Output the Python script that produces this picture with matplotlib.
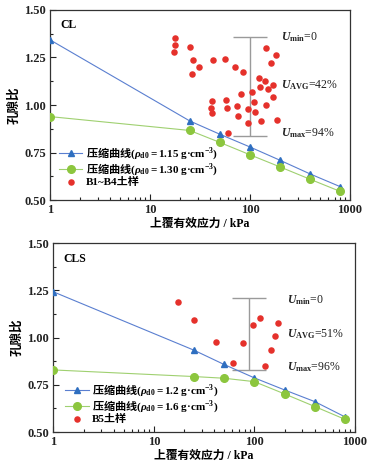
import matplotlib
matplotlib.use("Agg")
import matplotlib.pyplot as plt
from matplotlib.ticker import FixedLocator, FixedFormatter, MultipleLocator, LogLocator, NullFormatter

plt.rcParams['font.family'] = ['Liberation Serif', 'Noto Sans CJK SC', 'DejaVu Sans']
plt.rcParams['mathtext.fontset'] = 'custom'
plt.rcParams['mathtext.rm'] = 'Liberation Serif:bold'
plt.rcParams['mathtext.it'] = 'Liberation Serif:italic:bold'
plt.rcParams['mathtext.bf'] = 'Liberation Serif:bold'
plt.rcParams['font.weight'] = 'bold'

# ---------------- data ----------------
stress = [1, 25, 50, 100, 200, 400, 800]

CL_e_115 = [1.343, 0.916, 0.846, 0.779, 0.709, 0.637, 0.570]
CL_e_130 = [0.939, 0.866, 0.803, 0.738, 0.674, 0.609, 0.545]
CL_sample_p = [17.7, 17.7, 17.4, 25.1, 26.7, 30.7, 26.5, 42.4, 56.6, 70.8, 85.1,
               144.5, 182, 161, 124, 142, 169, 126, 151, 80.7, 104.7, 171,
               41.4, 57.5, 110, 144.5, 40.7, 58.9, 74.1, 94.8, 41.4, 113,
               76.4, 94.8, 129.7, 187.6, 60.3]
CL_sample_e = [1.351, 1.316, 1.281, 1.304, 1.238, 1.198, 1.163, 1.235, 1.242, 1.202, 1.174,
               1.300, 1.263, 1.221, 1.142, 1.126, 1.105, 1.093, 1.084, 1.059, 1.068, 1.042,
               1.019, 1.026, 1.014, 0.998, 0.986, 0.986, 0.993, 0.981, 0.956, 0.965,
               0.941, 0.907, 0.914, 0.921, 0.854]
CL_bar_p = 100
CL_bar_lo, CL_bar_hi = 0.837, 1.356
CL_U = ['$\\it{U}_{\\rm min}$=0', '$\\it{U}_{\\rm AVG}$=42%', '$\\it{U}_{\\rm max}$=94%']
CL_U_e = [1.356, 1.105, 0.851]

CLS_e_12 = [1.243, 0.934, 0.858, 0.787, 0.723, 0.661, 0.580]
CLS_e_16 = [0.829, 0.794, 0.785, 0.767, 0.702, 0.635, 0.567]
CLS_sample_p = [17.4, 25.3, 41.9, 60.9, 77.3, 97.3, 113, 127, 145, 161, 173]
CLS_sample_e = [1.187, 1.093, 0.977, 0.864, 0.972, 1.066, 1.103, 0.850, 0.933, 1.008, 1.077]
CLS_bar_p = 88
CLS_bar_lo, CLS_bar_hi = 0.831, 1.208
CLS_U = ['$\\it{U}_{\\rm min}$=0', '$\\it{U}_{\\rm AVG}$=51%', '$\\it{U}_{\\rm max}$=96%']
CLS_U_e = [1.199, 1.019, 0.845]

x_ticks = [1, 10, 100, 1000]
x_ticklabels = ['1', '10', '100', '1000']
y_ticks = [0.50, 0.75, 1.00, 1.25, 1.50]
y_ticklabels = ['0.50', '0.75', '1.00', '1.25', '1.50']

BLUE = '#2f6fc0'
BLUE_L = '#5a7fd0'
GREEN = '#8cc63e'
GREEN_L = '#9fd070'
RED = '#e5312b'
GRAY = '#9a9a9a'

fig = plt.figure(figsize=(3.72, 4.67), dpi=100)


def curve_label(rho):
    return '压缩曲线$({\\it\\rho}_{\\rm d0}{\\rm =%s\\ g·cm}^{-3})$' % rho


def panel(ax, tag, e1, e2, lab1, lab2, sp, se, samplab, bar_p, lo, hi, utexts, ue, utx, leg_anchor):
    ax.plot(stress, e1, '-', color=BLUE_L, lw=0.8, marker='^', ms=5,
            mfc=BLUE, mec=BLUE, label=lab1, zorder=3)
    ax.plot(stress, e2, '-', color=GREEN_L, lw=0.8, marker='o', ms=5.5,
            mfc=GREEN, mec=GREEN, label=lab2, zorder=3)
    ax.scatter(sp, se, s=22, color=RED, label=samplab, zorder=4, linewidths=0)
    mid = (lo + hi) / 2
    ax.errorbar([bar_p], [mid], yerr=[[mid - lo], [hi - mid]], fmt='none',
                ecolor=GRAY, elinewidth=1.0, capsize=12, capthick=1.0, zorder=2)
    for t, yv in zip(utexts, ue):
        ax.text(utx, yv, t, fontsize=8.5, fontweight='normal', va='center', ha='left',
                color='#222222',
                bbox=dict(facecolor='white', edgecolor='none', pad=0.5), zorder=5)
    ax.set_xscale('log')
    ax.set_xlim(1, 1000)
    ax.set_ylim(0.5, 1.5)
    ax.xaxis.set_major_locator(FixedLocator(x_ticks))
    ax.xaxis.set_major_formatter(FixedFormatter(x_ticklabels))
    ax.xaxis.set_minor_locator(LogLocator(base=10, subs=range(2, 10)))
    ax.xaxis.set_minor_formatter(NullFormatter())
    ax.yaxis.set_major_locator(FixedLocator(y_ticks))
    ax.yaxis.set_major_formatter(FixedFormatter(y_ticklabels))
    ax.yaxis.set_minor_locator(MultipleLocator(0.125))
    ax.tick_params(which='both', direction='in', top=False, right=False,
                   labelsize=9, colors='#222222', width=0.8)
    ax.tick_params(which='major', length=4, pad=3)
    ax.tick_params(which='minor', length=2.5)
    for lbl in ax.get_xticklabels() + ax.get_yticklabels():
        lbl.set_fontweight('bold')
    for s in ax.spines.values():
        s.set_color('#333333')
        s.set_linewidth(0.9)
    ax.text(0.035, 0.95, tag, transform=ax.transAxes, fontsize=8.5,
            fontweight='bold', va='top', ha='left')
    ax.set_xlabel('上覆有效应力 / kPa', fontsize=8.5, fontweight='bold', labelpad=1)
    ax.set_ylabel('孔隙比', fontsize=9, fontweight='bold', labelpad=3)
    leg = ax.legend(loc='lower left', bbox_to_anchor=leg_anchor, frameon=False,
                    prop={'family': 'Noto Sans CJK SC', 'weight': 'bold', 'size': 8},
                    handlelength=2.1, handletextpad=0.3,
                    labelspacing=0.0, borderaxespad=0)
    leg.get_texts()[2].set_fontfamily(['Liberation Serif', 'Noto Sans CJK SC'])


ax1 = fig.add_axes([0.1344, 0.5717, 0.8065, 0.4069])
panel(ax1, 'CL', CL_e_115, CL_e_130,
      curve_label('1.15'), curve_label('1.30'),
      CL_sample_p, CL_sample_e, 'B1~B4土样', CL_bar_p, CL_bar_lo, CL_bar_hi,
      CL_U, CL_U_e, 205, (0.015, 0.045))

ax2 = fig.add_axes([0.1433, 0.0749, 0.8105, 0.4041])
panel(ax2, 'CLS', CLS_e_12, CLS_e_16,
      curve_label('1.2'), curve_label('1.6'),
      CLS_sample_p, CLS_sample_e, 'B5土样', CLS_bar_p, CLS_bar_lo, CLS_bar_hi,
      CLS_U, CLS_U_e, 210, (0.025, 0.02))

fig.savefig('out.png', dpi=100)
